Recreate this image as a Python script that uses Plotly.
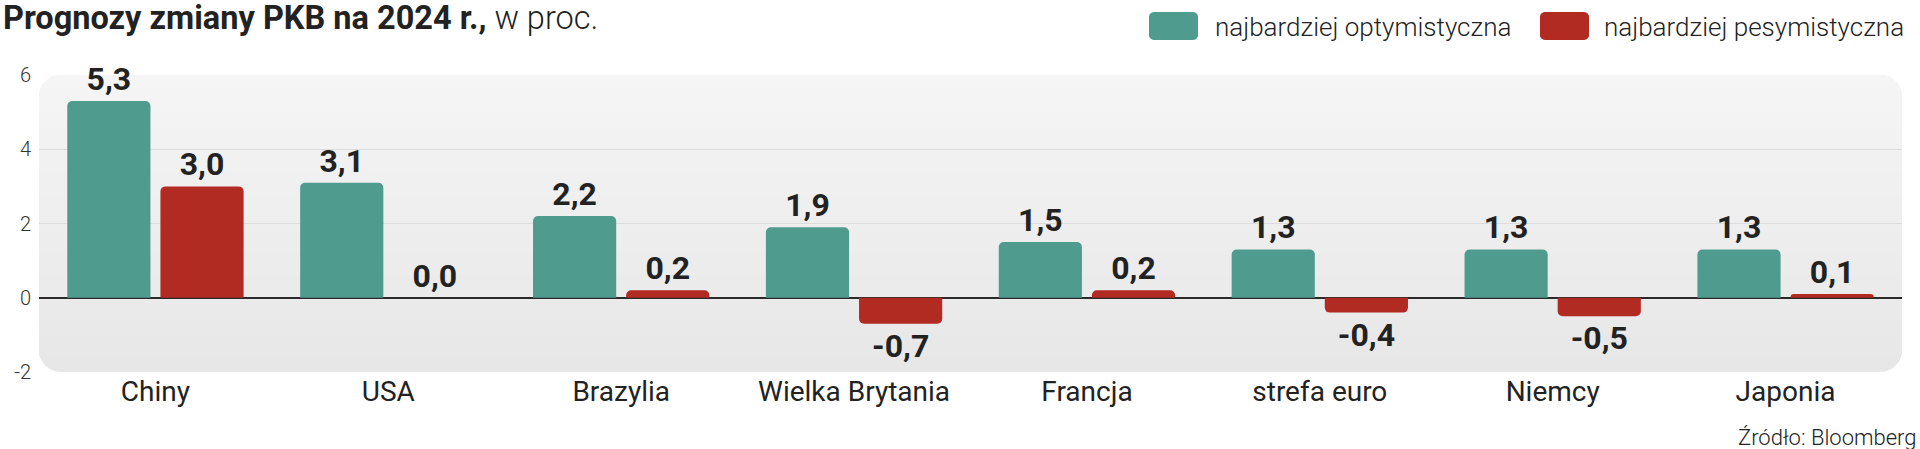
import math
import plotly.graph_objects as go

# ---------------- data ----------------
categories = ["Chiny", "USA", "Brazylia", "Wielka Brytania", "Francja",
              "strefa euro", "Niemcy", "Japonia"]
optimistic = [5.3, 3.1, 2.2, 1.9, 1.5, 1.3, 1.3, 1.3]
pessimistic = [3.0, 0.0, 0.2, -0.7, 0.2, -0.4, -0.5, 0.1]
series_names = ["najbardziej optymistyczna", "najbardziej pesymistyczna"]
series_colors = ["#4f9c8f", "#b12b22"]
y_ticks = [-2, 0, 2, 4, 6]
y_tick_labels = ["-2", "0", "2", "4", "6"]
grid_ticks = [2, 4]
title_bold = "Prognozy zmiany PKB na 2024 r.,"
title_rest = " w proc."
source_text = "Źródło: Bloomberg"

# ---------------- geometry ----------------
W, H = 1920, 449
ML, MR, MT, MB = 39, 18, 75, 77
PW = W - ML - MR
PH = H - MT - MB
FONT = "Roboto, 'Open Sans', sans-serif"


def fmt(v):
    return f"{v:.1f}".replace(".", ",")


def px_x(px):
    return (px - ML) / PW


def px_y(py):
    return (H - MB - py) / PH


def rounded_rect_points(w, h, r, n=14):
    pts = []
    for cx, cy, a0 in [(w - r, r, -90), (w - r, h - r, 0), (r, h - r, 90), (r, r, 180)]:
        for k in range(n + 1):
            a = math.radians(a0 + 90 * k / n)
            pts.append((cx + r * math.cos(a), cy + r * math.sin(a)))
    return pts


def clip_above(pts, y0):
    out = []
    n = len(pts)
    for i in range(n):
        p, q = pts[i], pts[(i + 1) % n]
        pin, qin = p[1] >= y0, q[1] >= y0
        if pin:
            out.append(p)
        if pin != qin:
            t = (y0 - p[1]) / (q[1] - p[1])
            out.append((p[0] + t * (q[0] - p[0]), y0))
    return out


def to_path(pts):
    return "M " + " L ".join(f"{x:.2f},{y:.2f}" for x, y in pts) + " Z"


def lerp_gray(a, b, t):
    v = round(a + (b - a) * t)
    return f"rgb({v},{v},{v})"


shapes = []
# background rounded panel with a soft vertical gradient
base = rounded_rect_points(PW, PH, 22)
NB = 40
for k in range(NB):
    y0 = PH * k / NB
    pts = clip_above(base, y0) if k > 0 else base
    shapes.append(dict(type="path", xref="paper", yref="paper",
                       xsizemode="pixel", ysizemode="pixel", xanchor=0, yanchor=0,
                       path=to_path(pts), fillcolor=lerp_gray(231, 245, k / (NB - 1)),
                       line=dict(width=0), layer="below"))

fig = go.Figure()
for name, vals, col in zip(series_names, [optimistic, pessimistic], series_colors):
    fig.add_trace(go.Bar(
        x=categories, y=vals, name=name,
        marker=dict(color=col, cornerradius=5, line=dict(width=0)),
        text=[fmt(v) for v in vals], textposition="outside",
        textfont=dict(family=FONT, size=32, color="#222222", weight="bold"),
        constraintext="none", cliponaxis=False, showlegend=False, hoverinfo="skip",
    ))

# legend: swatches + labels
legend_pos = [(1149, 1213), (1540, 1602)]
annotations = []
for (sx, tx), name, col in zip(legend_pos, series_names, series_colors):
    shapes.append(dict(type="path", xref="paper", yref="paper",
                       xsizemode="pixel", ysizemode="pixel",
                       xanchor=px_x(sx), yanchor=px_y(40),
                       path=to_path(rounded_rect_points(49, 28, 5, 6)),
                       fillcolor=col, line=dict(width=0), layer="above"))
    annotations.append(dict(xref="paper", yref="paper", x=px_x(tx), y=px_y(27),
                            xanchor="left", yanchor="middle", showarrow=False,
                            text=name,
                            font=dict(family=FONT, size=26, color="#222222", weight=300)))

annotations.append(dict(xref="paper", yref="paper", x=px_x(1), y=px_y(18),
                        xanchor="left", yanchor="middle", showarrow=False,
                        text=f"<b>{title_bold}</b>{title_rest}",
                        font=dict(family=FONT, size=32.5, color="#222222", weight=300)))
annotations.append(dict(xref="paper", yref="paper", x=px_x(1919), y=px_y(437),
                        xanchor="right", yanchor="middle", showarrow=False,
                        text=source_text,
                        font=dict(family=FONT, size=22, color="#222222", weight=300)))

fig.update_layout(
    width=W, height=H,
    margin=dict(l=ML, r=MR, t=MT, b=MB, pad=0),
    paper_bgcolor="white", plot_bgcolor="rgba(0,0,0,0)",
    barmode="group", bargap=0.2, bargroupgap=0.107,
    shapes=shapes, annotations=annotations,
    xaxis=dict(type="category", showgrid=False, zeroline=False, showline=False,
               ticks="", tickfont=dict(family=FONT, size=28, color="#222222")),
    yaxis=dict(range=[-2, 6], tickvals=y_ticks, ticktext=y_tick_labels,
               showgrid=False, zeroline=True, zerolinecolor="#2a2a2a", zerolinewidth=2,
               showline=False, ticks="", ticklabelstandoff=7,
               tickfont=dict(family=FONT, size=20, color="#333333", weight=300),
               minor=dict(tickvals=grid_ticks, showgrid=True, gridcolor="#dcdcdc",
                          gridwidth=1, ticks="")),
)

fig.write_html("out.html", config={"displayModeBar": False},
               post_script="document.body.style.margin='0';")
